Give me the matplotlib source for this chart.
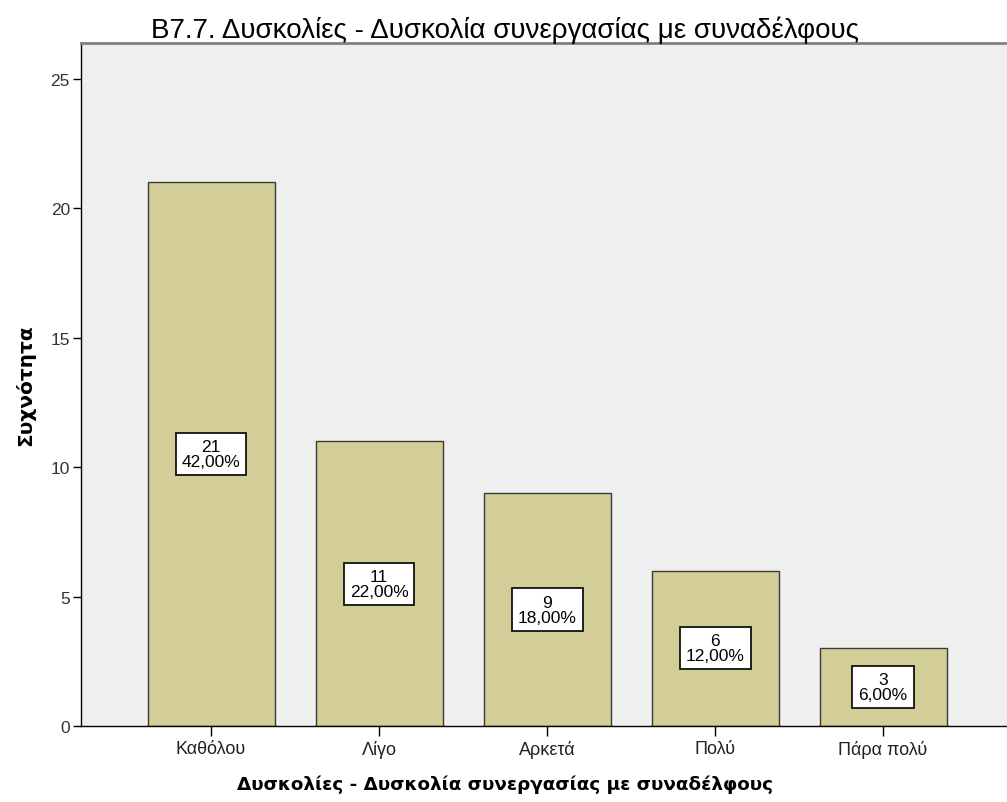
import matplotlib.pyplot as plt

# Data
categories = ['Καθόλου', 'Λίγο', 'Αρκετά', 'Πολύ', 'Πάρα πολύ']
counts = [21, 11, 9, 6, 3]
percents = ['42,00%', '22,00%', '18,00%', '12,00%', '6,00%']
y_ticks = [0, 5, 10, 15, 20, 25]

plt.rcParams['font.family'] = ['Liberation Sans', 'DejaVu Sans']

fig = plt.figure(figsize=(10.07, 8.03), dpi=100)
ax = fig.add_axes([81 / 1007, 76 / 803, 926 / 1007, 683 / 803])
ax.set_facecolor('#efefef')

x = list(range(len(categories)))
ax.bar(x, counts, width=0.756, color='#d3ce98', edgecolor='#3a3a3a', linewidth=1.0, zorder=2)

for xi, c, p in zip(x, counts, percents):
    ax.text(xi, c / 2, f'{c}\n{p}', ha='center', va='center', fontsize=12.5,
            linespacing=1.0, zorder=3,
            bbox=dict(boxstyle='square,pad=0.35', facecolor='white', edgecolor='black', linewidth=1.2))

ax.set_xlim(-0.774, 4.738)
ax.set_ylim(0, 26.39)
ax.set_xticks(x)
ax.set_xticklabels(categories, fontsize=13, color='#222222')
ax.set_yticks(y_ticks)
ax.set_yticklabels([str(v) for v in y_ticks], fontsize=12.5, color='#333333')
ax.tick_params(axis='x', length=7, width=1, pad=3)
ax.tick_params(axis='y', length=6, width=1, pad=2)

for side in ['left', 'bottom']:
    ax.spines[side].set_color('black')
    ax.spines[side].set_linewidth(1.0)
ax.spines['top'].set_color('#808080')
ax.spines['top'].set_linewidth(2)
ax.spines['right'].set_visible(False)

ax.set_title('B7.7. Δυσκολίες - Δυσκολία συνεργασίας με συναδέλφους', fontsize=20, pad=4, x=0.458)
ax.set_xlabel('Δυσκολίες - Δυσκολία συνεργασίας με συναδέλφους', fontsize=13.2,
              fontweight='bold', family=['DejaVu Sans'], labelpad=12, x=0.458)
ax.set_ylabel('Συχνότητα', fontsize=14.5, fontweight='bold', family=['DejaVu Sans'], labelpad=11)

fig.savefig('out.png', dpi=100)
